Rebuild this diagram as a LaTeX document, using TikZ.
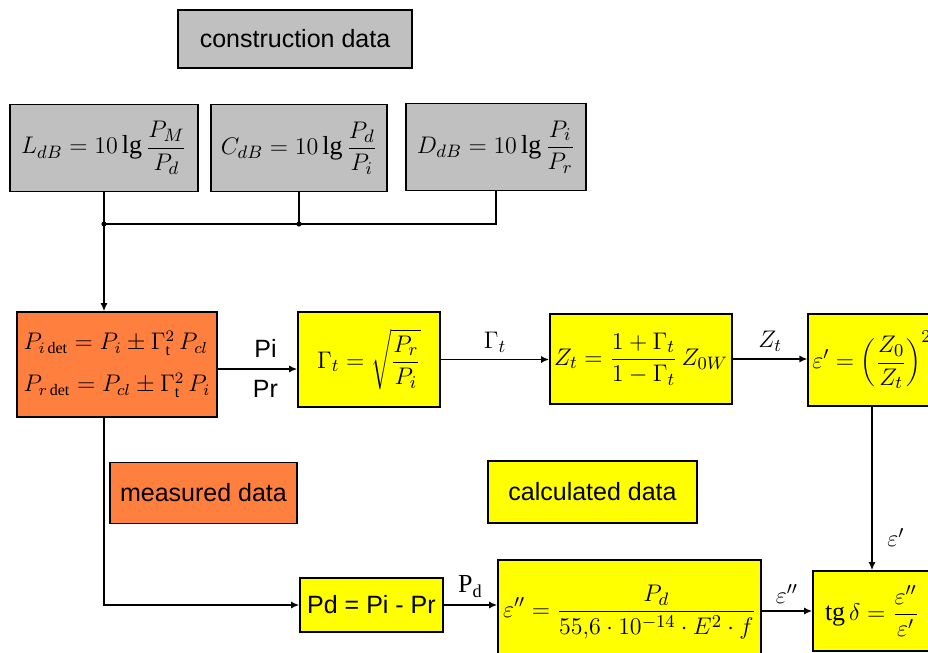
\documentclass[tikz,border=0pt]{standalone}
\usepackage{fontspec}
\setmainfont{Liberation Serif}
\setsansfont{Liberation Sans}
\usetikzlibrary{positioning, arrows.meta, calc}

\definecolor{constgray}{RGB}{192,192,192}
\definecolor{measorange}{RGB}{255,127,63}
\definecolor{calcyellow}{RGB}{255,255,0}

\begin{document}
\begin{tikzpicture}[
    x=0.5pt, y=-0.5pt,
    box/.style={rectangle, draw=black, line width=0.8pt, inner sep=2pt},
    construct/.style={box, fill=constgray},
    measured/.style={box, fill=measorange},
    calculated/.style={box, fill=calcyellow},
    formula/.style={font=\fontsize{13}{16}\selectfont},
    sanstext/.style={font=\sffamily\fontsize{12.5}{15}\selectfont},
    edge/.style={draw, line width=0.8pt},
    arrow/.style={edge, -{Latex[length=4pt, width=3.5pt]}}
]
    \useasboundingbox (0, 0) rectangle (928, 653);
    \clip (0, 0) rectangle (928, 653);

    % Construction data ===========================
    \node[construct, sanstext, minimum width=117pt, minimum height=29pt] (Construction) at (295, 39) {construction data};
    \node[construct, formula, minimum width=94pt, minimum height=43.5pt] (Ldb) at (104, 148) {$\displaystyle L_{dB} = 10\lg\frac{P_M}{P_d}$};
    \node[construct, formula, minimum width=88pt, minimum height=43.5pt] (Cdb) at (299, 148) {$\displaystyle C_{dB} = 10\lg\frac{P_d}{P_i}$};
    \node[construct, formula, minimum width=90pt, minimum height=43.5pt] (Ddb) at (496, 147) {$\displaystyle D_{dB} = 10\lg\frac{P_i}{P_r}$};

    % Measured data ===========================
    \node[measured, formula, font=\fontsize{12}{14}\selectfont, align=left, inner sep=1pt, minimum width=100pt, minimum height=52.5pt] (Detector) at (117, 364.5) {$P_{i\,\mathrm{det}} = P_i \pm \Gamma_{\mathrm t}^2\,P_{cl}$\\[7pt]$P_{r\,\mathrm{det}} = P_{cl} \pm \Gamma_{\mathrm t}^2\,P_i$};
    \node[measured, sanstext, minimum width=93.5pt, minimum height=30.5pt] (Measured) at (203.5, 493) {measured data};

    % Calculated data ===========================
    \node[calculated, formula, minimum width=71pt, minimum height=47.5pt] (Gamma) at (369, 359.5) {$\displaystyle \Gamma_t = \sqrt{\frac{P_r}{P_i}}$};
    \node[calculated, formula, minimum width=81pt, minimum height=45pt] (Zt) at (641, 359) {$\displaystyle Z_t = \frac{1+\Gamma_t}{1-\Gamma_t}\,Z_{0W}$};
    \node[calculated, formula, minimum width=62pt, minimum height=46pt] (EpsOne) at (872, 360) {$\displaystyle \varepsilon' = \left(\frac{Z_0}{Z_t}\right)^{2}$};
    \node[calculated, sanstext, minimum width=104.5pt, minimum height=31pt] (Calculated) at (592.5, 492) {calculated data};
    \node[calculated, sanstext, minimum width=71.5pt, minimum height=27pt] (Pd) at (371.5, 605) {Pd = Pi - Pr};
    \node[calculated, formula, minimum width=131.5pt, minimum height=52pt] (EpsTwo) at (629.5, 612) {$\displaystyle \varepsilon'' = \frac{P_d}{55{,}6\cdot 10^{-14}\cdot E^2\cdot f}$};
    \node[calculated, formula, minimum width=59pt, minimum height=40pt] (TgDelta) at (872, 611) {$\displaystyle \mathrm{tg}\,\delta = \frac{\varepsilon''}{\varepsilon'}$};

    % Bus ===========================
    \coordinate (busL) at (104, 224);
    \coordinate (busC) at (299, 224);
    \coordinate (busD) at (496, 224);

    \draw[edge] (Ldb) -- (busL);
    \draw[edge] (Cdb) -- (busC);
    \draw[edge] (Ddb) |- (busL);
    \fill (busL) circle (1.3pt);
    \fill (busC) circle (1.3pt);
    \draw[arrow] (busL) -- (busL |- Detector.north);

    % Edges ===========================
    \draw[arrow] ([yshift=-2.25pt]Detector.east) -- ([yshift=-2.25pt]Detector.east -| Gamma.west)
        node[pos=0.6, above, sanstext, yshift=2pt] {Pi}
        node[pos=0.6, below, sanstext, yshift=-2pt] {Pr};
    \draw[arrow] (Gamma) -- (Gamma -| Zt.west) node[midway, above, formula] {$\Gamma_t$};
    \draw[arrow] (Zt) -- (Zt -| EpsOne.west) node[midway, above, formula] {$Z_t$};
    \draw[arrow] (EpsOne) -- (TgDelta) node[pos=0.8, right, formula, xshift=4pt] {$\varepsilon'$};
    \draw[arrow] (Detector.south -| busL) |- (Pd);
    \draw[arrow] (Pd) -- (Pd -| EpsTwo.west) node[midway, above, formula] {$\mathrm{P_d}$};
    \draw[arrow] (EpsTwo.east |- TgDelta) -- (TgDelta) node[midway, above, formula] {$\varepsilon''$};

\end{tikzpicture}
\end{document}
